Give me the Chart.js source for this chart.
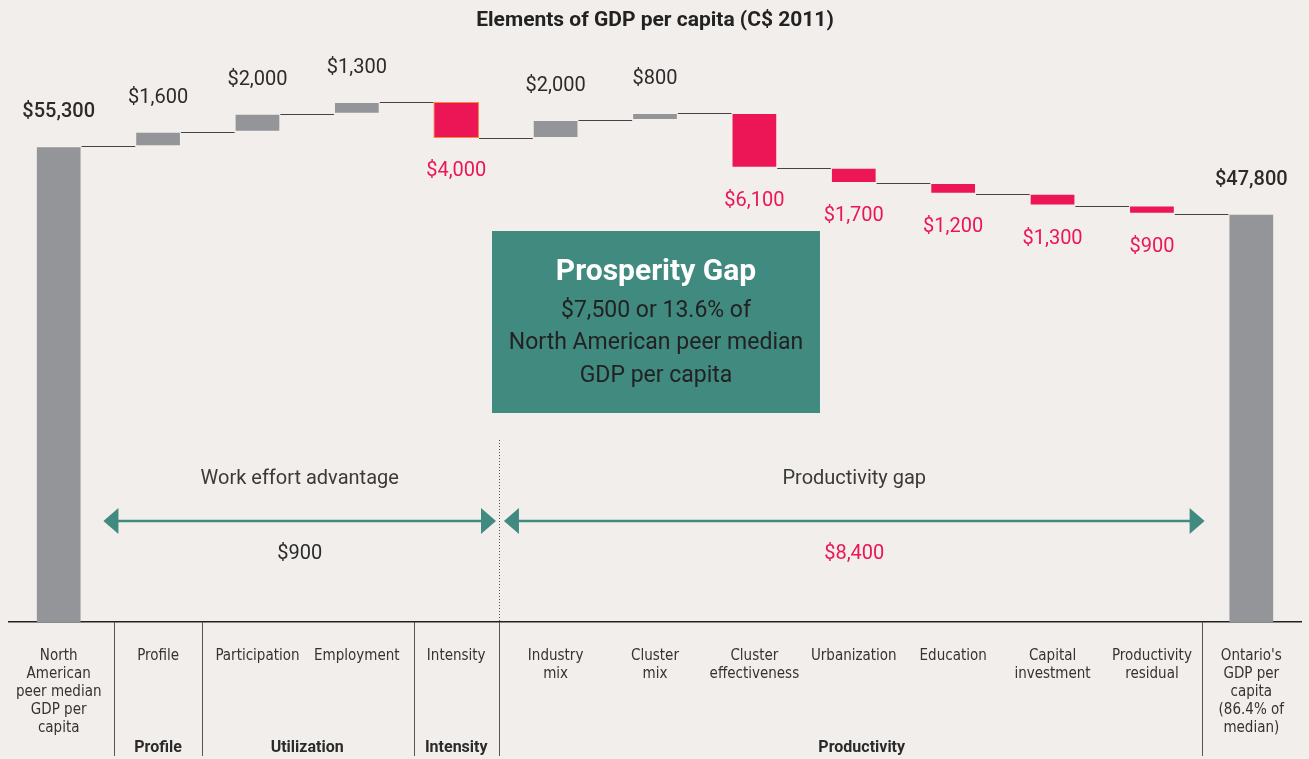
<!DOCTYPE html>
<html lang="en">
<head>
    <meta charset="UTF-8">
    <title>Elements of GDP per capita</title>
    <script src="https://cdn.jsdelivr.net/npm/chart.js"></script>
    <style>
        html, body { margin: 0; padding: 0; background: #f2eeeb; }
        #wrap { width: 1309px; height: 759px; position: relative; }
    </style>
</head>
<body>
    <div id="wrap"><canvas id="gdpChart"></canvas></div>
    <script>
        // chart data
        var categories = [
            ['North', 'American', 'peer median', 'GDP per', 'capita'],
            ['Profile'],
            ['Participation'],
            ['Employment'],
            ['Intensity'],
            ['Industry', 'mix'],
            ['Cluster', 'mix'],
            ['Cluster', 'effectiveness'],
            ['Urbanization'],
            ['Education'],
            ['Capital', 'investment'],
            ['Productivity', 'residual'],
            ["Ontario's", 'GDP per', 'capita', '(86.4% of', 'median)']
        ];
        var changes = [55300, 1600, 2000, 1300, -4000, 2000, 800, -6100, -1700, -1200, -1300, -900, 47800];
        var isTotal = [true, false, false, false, false, false, false, false, false, false, false, false, true];
        var valueLabels = ['$55,300', '$1,600', '$2,000', '$1,300', '$4,000', '$2,000', '$800',
                           '$6,100', '$1,700', '$1,200', '$1,300', '$900', '$47,800'];
        var groupLabels = ['Profile', 'Utilization', 'Intensity', 'Productivity'];
        var gapTitle = 'Prosperity Gap';
        var gapLines = ['$7,500 or 13.6% of', 'North American peer median', 'GDP per capita'];
        var effortLabel = 'Work effort advantage';
        var effortValue = '$900';
        var prodLabel = 'Productivity gap';
        var prodValue = '$8,400';

        var GRAY = '#939598';
        var PINK = '#ec1556';
        var TEAL = '#418a80';
        var DARK = '#2b2b2b';
        var FONT = 'Roboto, "Open Sans", sans-serif';
        var NARROW = '"Liberation Sans Narrow", "DejaVu Sans Condensed", Roboto, sans-serif';

        // floating bars from running totals
        var running = 0;
        var floating = [];
        var levels = [];
        changes.forEach(function (v, i) {
            if (isTotal[i]) {
                floating.push([0, v]);
                running = v;
            } else {
                floating.push([running, running + v]);
                running += v;
            }
            levels.push(running);
        });
        var colors = changes.map(function (v, i) { return (isTotal[i] || v > 0) ? GRAY : PINK; });
        var borders = changes.map(function (v, i) { return i === 4 ? '#f58b3c' : 'rgba(0,0,0,0)'; });

        var extras = {
            id: 'extras',
            afterDatasetsDraw: function (chart) {
                var ctx = chart.ctx;
                var x = chart.scales.x, y = chart.scales.y;
                var meta = chart.getDatasetMeta(0);
                ctx.save();

                // connector lines
                ctx.strokeStyle = '#444';
                ctx.lineWidth = 1;
                for (var i = 0; i < levels.length - 1; i++) {
                    var a = meta.data[i], b = meta.data[i + 1];
                    var ly = Math.round(y.getPixelForValue(levels[i])) + 0.5;
                    ctx.beginPath();
                    ctx.moveTo(a.x + a.width / 2, ly);
                    ctx.lineTo(b.x - b.width / 2, ly);
                    ctx.stroke();
                }

                // value labels
                ctx.textAlign = 'center';
                ctx.textBaseline = 'middle';
                floating.forEach(function (f, i) {
                    var cx = x.getPixelForValue(i);
                    var top = y.getPixelForValue(Math.max(f[0], f[1]));
                    var bot = y.getPixelForValue(Math.min(f[0], f[1]));
                    if (isTotal[i] || changes[i] > 0) {
                        ctx.fillStyle = DARK;
                        ctx.font = (isTotal[i] ? '500 ' : '') + '20px ' + FONT;
                        ctx.fillText(valueLabels[i], cx, top - 34);
                    } else {
                        ctx.fillStyle = PINK;
                        ctx.font = '20px ' + FONT;
                        ctx.fillText(valueLabels[i], cx, bot + 33);
                    }
                });
                ctx.restore();
            },
            afterDraw: function (chart) {
                var ctx = chart.ctx;
                var x = chart.scales.x;
                var area = chart.chartArea;
                var px = function (v) { return x.getPixelForValue(v); };
                ctx.save();

                // separators under the axis
                ctx.strokeStyle = '#555';
                ctx.lineWidth = 1;
                [0.558, 1.444, 3.577, 4.43, 11.5].forEach(function (s) {
                    var sx = Math.round(px(s)) + 0.5;
                    ctx.beginPath();
                    ctx.moveTo(sx, area.bottom);
                    ctx.lineTo(sx, 756);
                    ctx.stroke();
                });

                // dotted divider
                var dx = Math.round(px(4.43)) + 0.5;
                ctx.setLineDash([1, 2]);
                ctx.beginPath();
                ctx.moveTo(dx, 440);
                ctx.lineTo(dx, area.bottom);
                ctx.stroke();
                ctx.setLineDash([]);

                // group labels
                ctx.fillStyle = DARK;
                ctx.font = 'bold 16px ' + FONT;
                ctx.textAlign = 'center';
                ctx.textBaseline = 'middle';
                [1, 2.5, 4, 8.08].forEach(function (g, i) {
                    ctx.fillText(groupLabels[i], px(g), 748);
                });

                // prosperity gap box
                var bx0 = px(4.36), bx1 = px(7.66);
                ctx.fillStyle = TEAL;
                ctx.fillRect(bx0, 231, bx1 - bx0, 182);
                var bc = (bx0 + bx1) / 2;
                ctx.fillStyle = '#ffffff';
                ctx.font = 'bold 30px ' + FONT;
                ctx.fillText(gapTitle, bc, 272);
                ctx.fillStyle = '#222';
                ctx.font = '23px ' + FONT;
                gapLines.forEach(function (t, i) {
                    ctx.fillText(t, bc, 311 + i * 32.5);
                });

                // arrows
                function arrow(x0, x1, yy) {
                    ctx.strokeStyle = TEAL;
                    ctx.fillStyle = TEAL;
                    ctx.lineWidth = 2.5;
                    ctx.beginPath();
                    ctx.moveTo(x0 + 10, yy);
                    ctx.lineTo(x1 - 10, yy);
                    ctx.stroke();
                    ctx.beginPath();
                    ctx.moveTo(x0, yy);
                    ctx.lineTo(x0 + 15, yy - 13);
                    ctx.lineTo(x0 + 15, yy + 13);
                    ctx.closePath();
                    ctx.fill();
                    ctx.beginPath();
                    ctx.moveTo(x1, yy);
                    ctx.lineTo(x1 - 15, yy - 13);
                    ctx.lineTo(x1 - 15, yy + 13);
                    ctx.closePath();
                    ctx.fill();
                }
                var a0 = px(0.45), a1 = px(4.4), a2 = px(4.48), a3 = px(11.53);
                arrow(a0, a1, 521);
                arrow(a2, a3, 521);

                ctx.font = '20px ' + FONT;
                ctx.fillStyle = '#3a3a3a';
                ctx.fillText(effortLabel, (a0 + a1) / 2, 479);
                ctx.fillText(prodLabel, (a2 + a3) / 2, 479);
                ctx.fillStyle = DARK;
                ctx.fillText(effortValue, (a0 + a1) / 2, 554);
                ctx.fillStyle = PINK;
                ctx.fillText(prodValue, (a2 + a3) / 2, 554);

                ctx.restore();
            }
        };

        var ctx = document.getElementById('gdpChart').getContext('2d');
        var gdpChart = new Chart(ctx, {
            type: 'bar',
            data: {
                labels: categories,
                datasets: [{
                    data: floating,
                    backgroundColor: colors,
                    borderColor: borders,
                    borderWidth: 1,
                    borderSkipped: false,
                    barPercentage: 0.46,
                    categoryPercentage: 1
                }]
            },
            options: {
                responsive: true,
                maintainAspectRatio: false,
                animation: false,
                layout: { padding: { left: 9, right: 8, top: 0, bottom: 17 } },
                plugins: {
                    legend: { display: false },
                    tooltip: { enabled: false },
                    title: {
                        display: true,
                        text: 'Elements of GDP per capita (C$ 2011)',
                        color: '#222',
                        font: { family: FONT, size: 21, weight: 'bold', lineHeight: 1.2 },
                        padding: { top: 8, bottom: 28 }
                    }
                },
                scales: {
                    x: {
                        grid: {
                            display: true,
                            drawOnChartArea: false,
                            drawTicks: true,
                            tickLength: 20,
                            tickColor: 'rgba(0,0,0,0)'
                        },
                        border: { display: true, color: '#222', width: 1.5 },
                        ticks: {
                            autoSkip: false,
                            maxRotation: 0,
                            padding: 5,
                            color: '#333',
                            font: { family: NARROW, size: 15, lineHeight: 1.2 }
                        }
                    },
                    y: {
                        display: false,
                        min: 2400,
                        max: 64750
                    }
                }
            },
            plugins: [extras]
        });
    </script>
</body>
</html>
